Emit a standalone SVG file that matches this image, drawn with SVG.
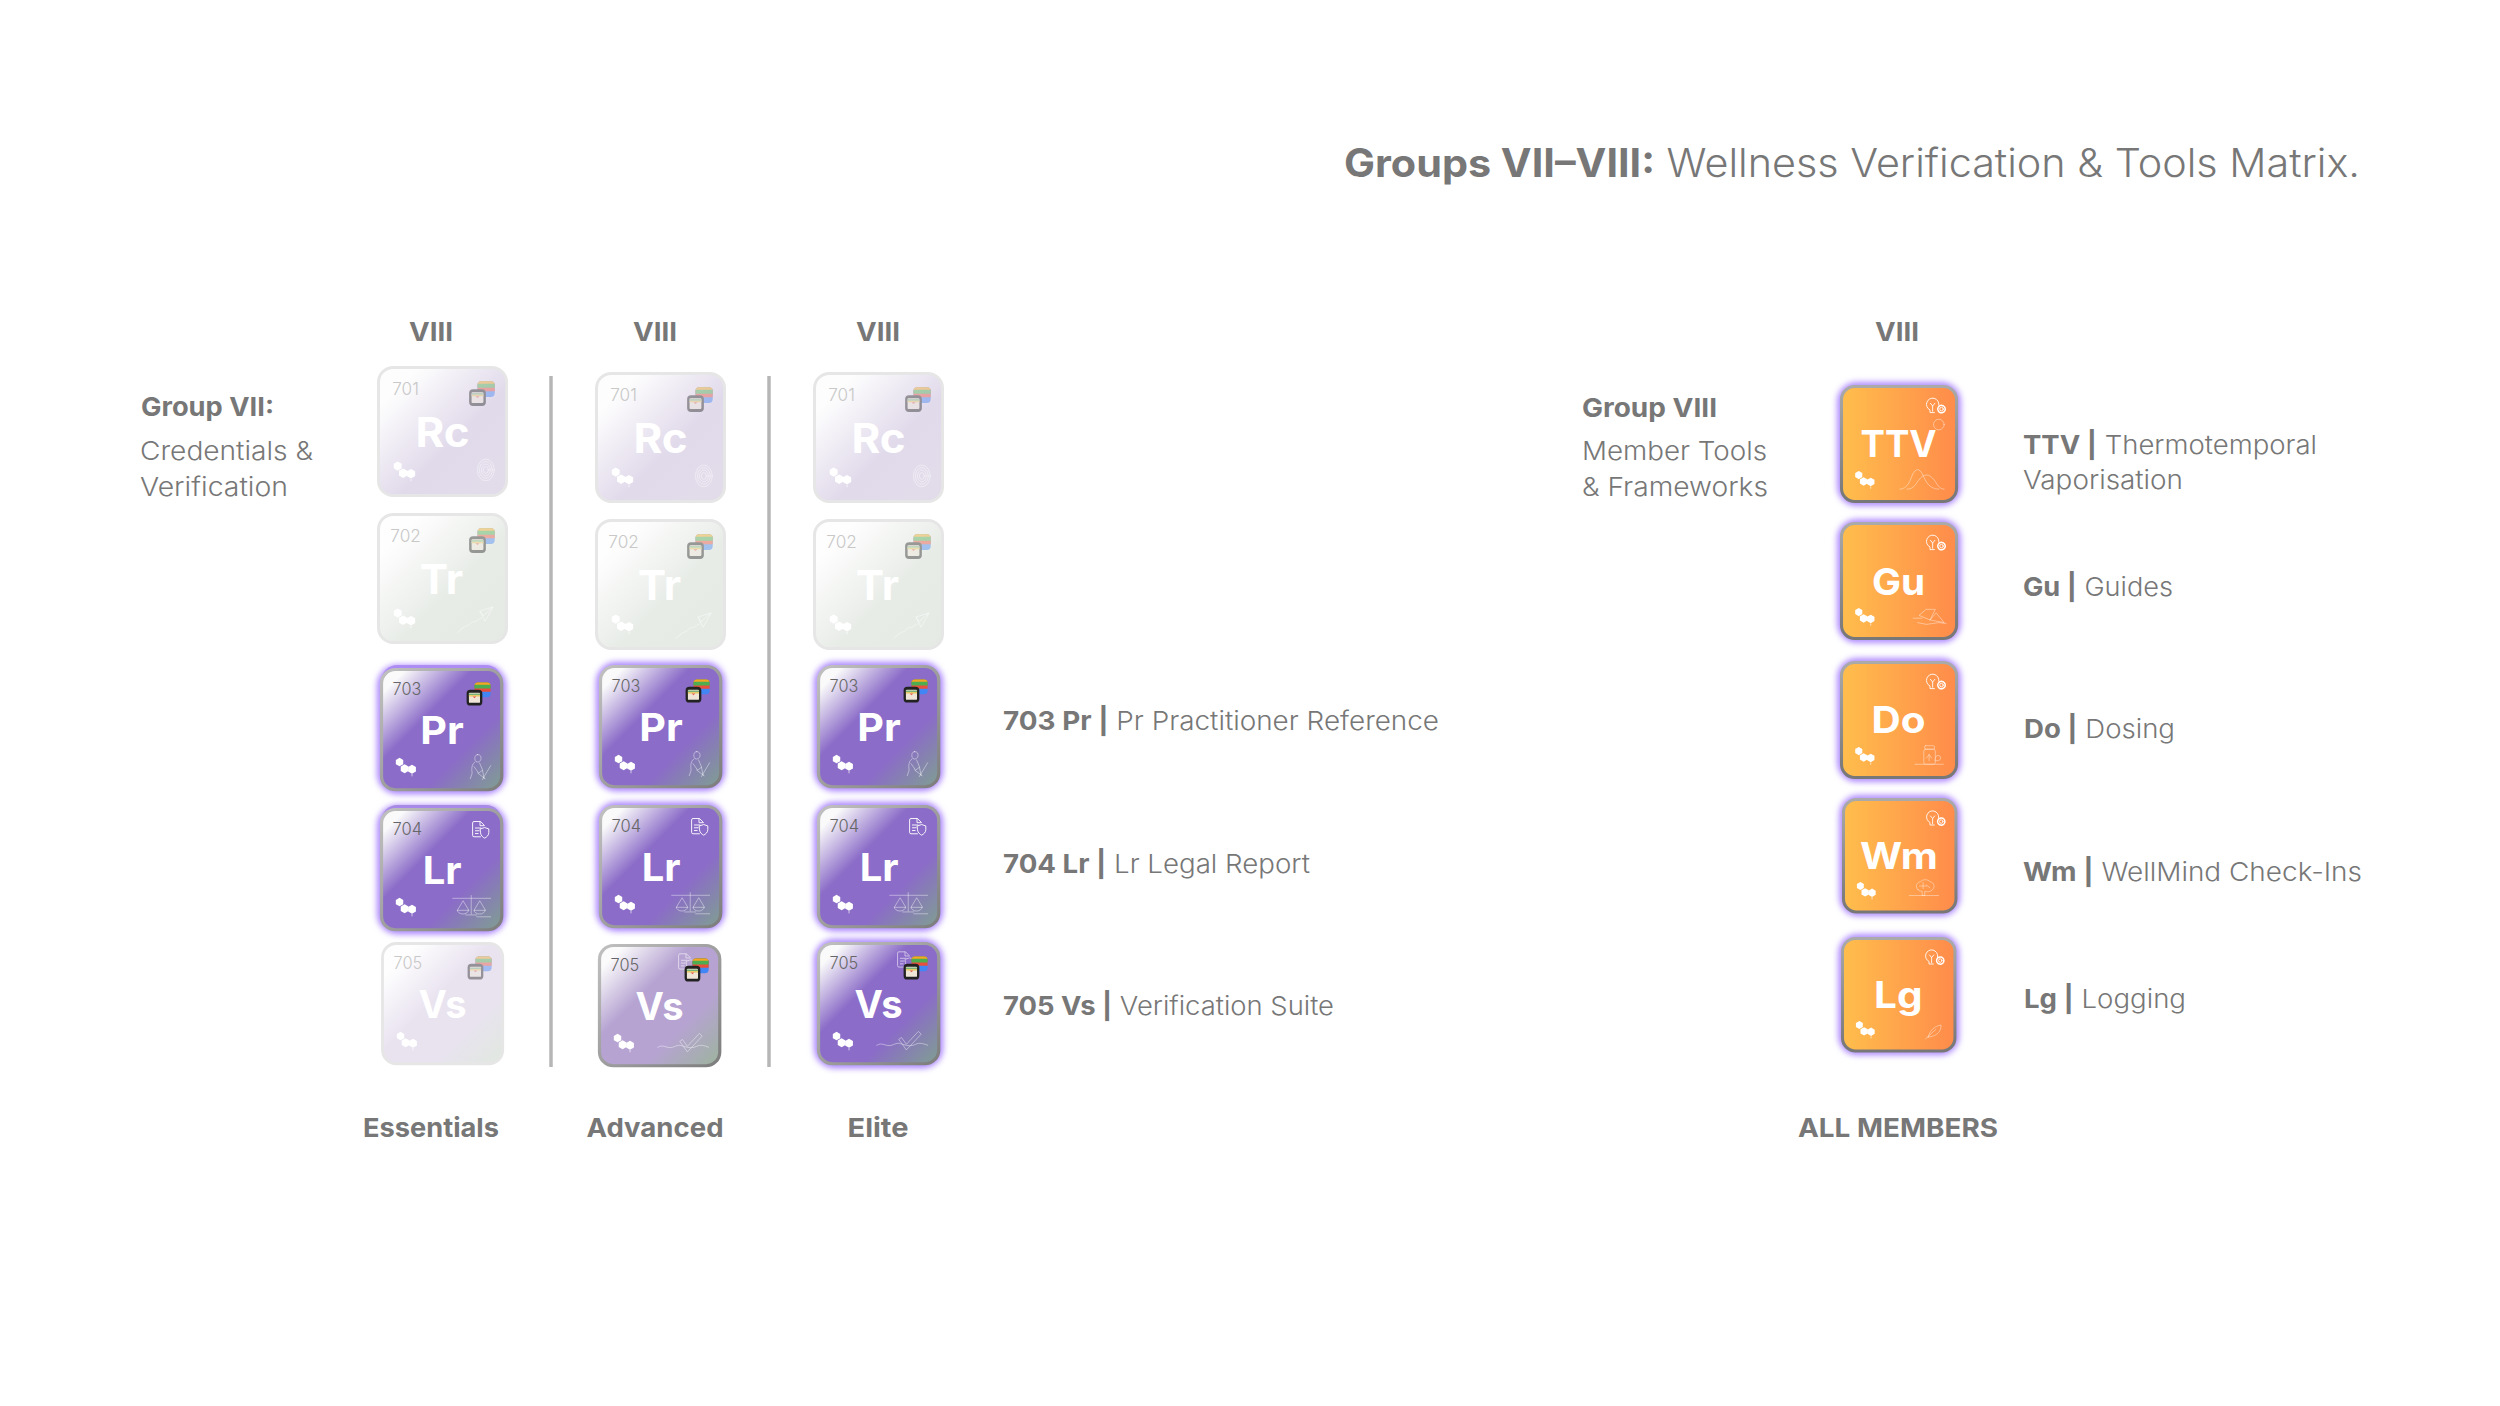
<svg xmlns="http://www.w3.org/2000/svg" width="2500" height="1406" viewBox="0 0 2500 1406">
<style>
text{font-family:"Inter","Open Sans","Liberation Sans",sans-serif;fill:#777}
.l{font-size:26px;font-weight:300}
.r{font-weight:300}
.b,.l.b,.l .b{font-weight:700}
.h{font-size:26px;font-weight:700;text-anchor:middle}
.sym{font-size:42px;font-weight:700;fill:#fff;text-anchor:middle}
.num{font-size:18px;font-weight:300;fill:#666}
.fade .num{fill:#c8c8c8}
.art{fill:none;stroke:#fff;stroke-width:.7;stroke-linecap:round;stroke-linejoin:round;opacity:.65}
.ic{fill:none;stroke:#fff;stroke-width:1;stroke-linecap:round;stroke-linejoin:round}
</style>
<defs>
<linearGradient id="gP" x1="0" y1="0" x2="1" y2="1"><stop offset=".1" stop-color="#fafafa"/><stop offset=".38" stop-color="#8b6cc8"/><stop offset=".68" stop-color="#8b6cc8"/><stop offset="1" stop-color="#7f9f90"/></linearGradient>
<linearGradient id="gPm" x1="0" y1="0" x2="1" y2="1"><stop offset=".1" stop-color="#fbfbfb"/><stop offset=".38" stop-color="#b6a3d2"/><stop offset=".68" stop-color="#b6a3d2"/><stop offset="1" stop-color="#9cb49c"/></linearGradient>
<linearGradient id="gRc" x1="0" y1="0" x2="1" y2="1"><stop offset=".16" stop-color="#fdfdfd"/><stop offset=".58" stop-color="#e1daeb"/><stop offset="1" stop-color="#e2dcea"/></linearGradient>
<linearGradient id="gTr" x1="0" y1="0" x2="1" y2="1"><stop offset=".16" stop-color="#fefefe"/><stop offset=".58" stop-color="#e8ece7"/><stop offset="1" stop-color="#e5eae4"/></linearGradient>
<linearGradient id="gVs" x1="0" y1="0" x2="1" y2="1"><stop offset=".14" stop-color="#fefefe"/><stop offset=".45" stop-color="#e9e3f0"/><stop offset=".7" stop-color="#e9e3f0"/><stop offset="1" stop-color="#e0e8df"/></linearGradient>
<linearGradient id="gO" x1="0" y1="0" x2="1" y2="0"><stop offset="0" stop-color="#ffbe4c"/><stop offset="1" stop-color="#ff8b4b"/></linearGradient>
<linearGradient id="bD" x1="0" y1="0" x2="1" y2="1"><stop offset="0" stop-color="#c0c0c0"/><stop offset="1" stop-color="#7d7d7d"/></linearGradient>
<linearGradient id="bV" x1="0" y1="0" x2="0" y2="1"><stop offset="0" stop-color="#aaa"/><stop offset="1" stop-color="#777"/></linearGradient>
<filter id="glow" x="-20%" y="-20%" width="140%" height="140%"><feGaussianBlur stdDeviation="3.500"/></filter>
<rect id="glowR" x="0" y="0" width="130" height="130" rx="17" fill="#fff" stroke="#a57dff" stroke-width="9" filter="url(#glow)"/>
<g id="hex" fill="#fff">
<path d="M19.500 95.500l4 2.300v4.600l-4 2.300l-4-2.300v-4.600z"/>
<path d="M25 102.500l4.200 2.400v4.800l-4.200 2.400l-4.200-2.400v-4.800z"/>
<path d="M33 103l4.200 2.400v4.800l-4.200 2.400l-4.200-2.400v-4.800z"/>
<path d="M33 113v2.500" stroke="#fff" stroke-width=".7"/>
</g>
<g id="stack">
<rect x="100.500" y="14" width="17.500" height="16" rx="4" fill="#4285f4"/>
<path d="M100.500 24v-6a4 4 0 0 1 4-4h9.500a4 4 0 0 1 4 4v6z" fill="#ea4f3d"/>
<path d="M100.500 20.500v-2.500a4 4 0 0 1 4-4h9.500a4 4 0 0 1 4 4v2.500z" fill="#4cae50"/>
<path d="M100.500 16.500a3.600 3.600 0 0 1 3-2.500h11.500a3.600 3.600 0 0 1 3 2.500z" fill="#f5a623"/>
</g>
<g id="wallet">
<rect x="92" y="22" width="17" height="17" rx="4" fill="#222"/>
<rect x="94.500" y="25" width="12" height="11" rx="1" fill="#efe6d8"/>
<rect x="94.500" y="26" width="12" height="1.700" fill="#78b27a"/>
<rect x="94.500" y="27.700" width="12" height="1.500" fill="#e9c75a"/>
<path d="M98.500 29.200h4l-2 1.800z" fill="#e8604e"/>
</g>
<g id="doc" class="ic">
<path d="M111 17l-4-4h-7a1.500 1.500 0 0 0-1.500 1.500v13.500a1.500 1.500 0 0 0 1.500 1.500h7"/>
<path d="M106.500 13v4.500h4.500M101.500 20h6M101.500 23h4M101.500 26h3"/>
<path d="M107 21l4.500-1.500l4.500 1.500v4c0 3-2.500 5-4.500 6c-2-1-4.500-3-4.500-6z"/>
</g>
<g id="bulb" class="ic">
<path d="M110 21a7 7 0 1 0-10 5.500v3h5"/>
<path d="M103 28v-6l-2.500-3M103 22l2.500-3"/>
<circle cx="113" cy="25.500" r="2"/><circle cx="113" cy="25.500" r="4.200" stroke-dasharray="1.600 .9" stroke-width="1.700"/>
</g>
<g id="print" class="art"><ellipse cx="109" cy="104" rx="8.500" ry="11"/><ellipse cx="109" cy="104" rx="6.500" ry="8.500"/><ellipse cx="109" cy="104" rx="4.500" ry="6"/><ellipse cx="109" cy="104" rx="2.500" ry="3.500"/></g>
<g id="plane" class="art"><path d="M116 94l-13 4l5 10z M103 98l3 5l10-9"/><path d="M105 105c-4 1-5 4-9 4c-3 0-2 3-6 4c-4 1-6 4-10 7" stroke-dasharray="2 1"/></g>
<g id="person" class="art"><path d="M104 92c3 0 4 2 3.500 5c-.5 2-2 3-4 3c-2 0-3-3-2.500-5c.3-2 1.500-3 3-3zM101 100c-3 2-4 6-3 12l-2 6M106 101l3 7l2 10M100 105l5 7l4-3M118 104l-9 15M104 112l8 6"/></g>
<g id="scale" class="art"><path d="M77 96h41M97 93v20M91 114h12M103 116h15M88 99l-6 10h12zM106 99l-6 10h12zM82 109a6 4 0 0 0 12 0M100 109a6 4 0 0 0 12 0"/></g>
<g id="check" class="art"><path d="M63 110c6-4 10 2 16 0s6-3 12-1s10 2 14 0s8-1 13 1"/><path d="M90 102l5 7l13-14l3 3l-16 17l-8-11z"/></g>
<g id="curve" class="art"><path d="M66 116c9 0 12-11 14-16c2-4 4-6 6-6s4 2 6 6c3 7 7 16 18 16"/><path d="M74 116c8 0 10-6 13-10c3-4 6-6 9-6s6 2 9 6c3 4 5 10 11 10"/></g>
<g id="book" class="art"><path d="M81 107h10M88 104l12 5l6-12l-10 0zM100 109l7-8l9 11l-16-3M86 112l10 2l14-2l8 1"/></g>
<g id="jar" class="art"><rect x="93" y="98" width="13" height="17" rx="2"/><rect x="94" y="94" width="11" height="4" rx="1"/><path d="M83 115h32M106 108a3 3 0 0 1 6 0c0 3-3 3-6 3zM99 104v7M96 108l3-4l3 4"/></g>
<g id="brain" class="art"><path d="M86 104c-4-4-1-8 3-9c3-3 8-3 11 0c5 1 6 6 3 9c-2 3-7 3-9 2v5h-3v-5c-2 0-4 0-5-2zM76 111h34M92 96v7M88 100h8M96 99l4 3"/></g>
<g id="leaf" class="art"><path d="M99 114c2-8 8-13 15-14c0 8-5 13-15 14zM96 116l12-11"/></g>
</defs>
<g id="title"><text x="1344" y="177" font-size="39" textLength="1016" lengthAdjust="spacingAndGlyphs"><tspan class="b">Groups VII–VIII:</tspan><tspan class="r"> Wellness Verification &amp; Tools Matrix.</tspan></text></g>
<g id="column-headers">
<text class="h" x="431" y="341" textLength="44" lengthAdjust="spacingAndGlyphs">VIII</text>
<text class="h" x="655" y="341" textLength="44" lengthAdjust="spacingAndGlyphs">VIII</text>
<text class="h" x="878" y="341" textLength="44" lengthAdjust="spacingAndGlyphs">VIII</text>
<text class="h" x="1897" y="341" textLength="44" lengthAdjust="spacingAndGlyphs">VIII</text>
<text class="h" x="431" y="1137" textLength="136" lengthAdjust="spacingAndGlyphs">Essentials</text>
<text class="h" x="655" y="1137" textLength="137" lengthAdjust="spacingAndGlyphs">Advanced</text>
<text class="h" x="878" y="1137" textLength="61" lengthAdjust="spacingAndGlyphs">Elite</text>
<text class="h" x="1898" y="1137" textLength="200" lengthAdjust="spacingAndGlyphs">ALL MEMBERS</text>
</g>
<g id="group-labels">
<text class="l b" x="141" y="416" textLength="133" lengthAdjust="spacingAndGlyphs">Group VII:</text>
<text class="l" x="140" y="460" textLength="173" lengthAdjust="spacingAndGlyphs">Credentials &amp;</text>
<text class="l" x="140" y="496" textLength="148" lengthAdjust="spacingAndGlyphs">Verification</text>
<text class="l b" x="1582" y="417" textLength="135" lengthAdjust="spacingAndGlyphs">Group VIII</text>
<text class="l" x="1582" y="460" textLength="185" lengthAdjust="spacingAndGlyphs">Member Tools</text>
<text class="l" x="1582" y="496" textLength="186" lengthAdjust="spacingAndGlyphs">&amp; Frameworks</text>
</g>
<g id="connectors" stroke="#b6b6b6" stroke-width="3.500">
<path d="M551 376V1067"/>
<path d="M769 376V1067"/>
</g>
<g id="legend">
<text class="l" x="1003" y="730" textLength="436" lengthAdjust="spacingAndGlyphs"><tspan class="b">703 Pr |</tspan> Pr Practitioner Reference</text>
<text class="l" x="1003" y="873" textLength="307" lengthAdjust="spacingAndGlyphs"><tspan class="b">704 Lr |</tspan> Lr Legal Report</text>
<text class="l" x="1003" y="1015" textLength="331" lengthAdjust="spacingAndGlyphs"><tspan class="b">705 Vs |</tspan> Verification Suite</text>
<text class="l" x="2023" y="454" textLength="294" lengthAdjust="spacingAndGlyphs"><tspan class="b">TTV |</tspan> Thermotemporal</text>
<text class="l" x="2023" y="489" textLength="160" lengthAdjust="spacingAndGlyphs">Vaporisation</text>
<text class="l" x="2023" y="596" textLength="150" lengthAdjust="spacingAndGlyphs"><tspan class="b">Gu |</tspan> Guides</text>
<text class="l" x="2024" y="738" textLength="151" lengthAdjust="spacingAndGlyphs"><tspan class="b">Do |</tspan> Dosing</text>
<text class="l" x="2023" y="881" textLength="339" lengthAdjust="spacingAndGlyphs"><tspan class="b">Wm |</tspan> WellMind Check-Ins</text>
<text class="l" x="2024" y="1008" textLength="162" lengthAdjust="spacingAndGlyphs"><tspan class="b">Lg |</tspan> Logging</text>
</g>

<g id="c1-rc" class="fade" transform="translate(378.500 367.500) scale(.985)"><rect width="130" height="130" rx="15" fill="url(#gRc)" stroke="#e6e6e6" stroke-width="3"/><g opacity=".42"><use href="#stack"/><use href="#wallet"/></g><use href="#hex"/><use href="#print"/><text class="num" x="14" y="28" textLength="27" lengthAdjust="spacingAndGlyphs">701</text><text class="sym" x="65" y="81" textLength="55" lengthAdjust="spacingAndGlyphs">Rc</text></g>
<g id="c1-tr" class="fade" transform="translate(378.500 514.500) scale(.985)"><rect width="130" height="130" rx="15" fill="url(#gTr)" stroke="#e6e6e6" stroke-width="3"/><g opacity=".42"><use href="#stack"/><use href="#wallet"/></g><use href="#hex"/><use href="#plane"/><text class="num" x="12" y="28" textLength="31" lengthAdjust="spacingAndGlyphs">702</text><text class="sym" x="64" y="81" textLength="44" lengthAdjust="spacingAndGlyphs">Tr</text></g>
<g id="c1-pr" transform="translate(381.500 669.500) scale(.925)"><rect y="-5" width="130" height="60" rx="17" fill="#b9a0e4"/><use href="#glowR"/><rect width="130" height="130" rx="15" fill="url(#gP)" stroke="url(#bD)" stroke-width="3.500"/><use href="#stack"/><use href="#wallet"/><use href="#hex"/><use href="#person"/><text class="num" x="12" y="28" textLength="31" lengthAdjust="spacingAndGlyphs">703</text><text class="sym" x="65.500" y="81" textLength="47" lengthAdjust="spacingAndGlyphs">Pr</text></g>
<g id="c1-lr" transform="translate(381.500 809.500) scale(.925)"><rect y="-5" width="130" height="60" rx="17" fill="#a99bbf"/><use href="#glowR"/><rect width="130" height="130" rx="15" fill="url(#gP)" stroke="url(#bD)" stroke-width="3.500"/><use href="#doc"/><use href="#hex"/><use href="#scale"/><text class="num" x="12" y="28" textLength="32" lengthAdjust="spacingAndGlyphs">704</text><text class="sym" x="65.500" y="81" textLength="42" lengthAdjust="spacingAndGlyphs">Lr</text></g>
<g id="c1-vs" class="fade" transform="translate(382.500 943.500) scale(.925)"><rect width="130" height="130" rx="15" fill="url(#gVs)" stroke="#e6e6e6" stroke-width="3"/><g opacity=".42"><use href="#stack"/><use href="#wallet"/></g><use href="#hex"/><text class="num" x="12" y="28" textLength="31" lengthAdjust="spacingAndGlyphs">705</text><text class="sym" x="65" y="81" textLength="52" lengthAdjust="spacingAndGlyphs">Vs</text></g>

<g id="c2-rc" class="fade" transform="translate(596.500 373.500) scale(.985)"><rect width="130" height="130" rx="15" fill="url(#gRc)" stroke="#e6e6e6" stroke-width="3"/><g opacity=".42"><use href="#stack"/><use href="#wallet"/></g><use href="#hex"/><use href="#print"/><text class="num" x="14" y="28" textLength="27" lengthAdjust="spacingAndGlyphs">701</text><text class="sym" x="65" y="81" textLength="55" lengthAdjust="spacingAndGlyphs">Rc</text></g>
<g id="c2-tr" class="fade" transform="translate(596.500 520.500) scale(.985)"><rect width="130" height="130" rx="15" fill="url(#gTr)" stroke="#e6e6e6" stroke-width="3"/><g opacity=".42"><use href="#stack"/><use href="#wallet"/></g><use href="#hex"/><use href="#plane"/><text class="num" x="12" y="28" textLength="31" lengthAdjust="spacingAndGlyphs">702</text><text class="sym" x="64" y="81" textLength="44" lengthAdjust="spacingAndGlyphs">Tr</text></g>
<g id="c2-pr" transform="translate(600.500 666.500) scale(.925)"><use href="#glowR"/><rect width="130" height="130" rx="15" fill="url(#gP)" stroke="url(#bD)" stroke-width="3.500"/><use href="#stack"/><use href="#wallet"/><use href="#hex"/><use href="#person"/><text class="num" x="12" y="28" textLength="31" lengthAdjust="spacingAndGlyphs">703</text><text class="sym" x="65.500" y="81" textLength="47" lengthAdjust="spacingAndGlyphs">Pr</text></g>
<g id="c2-lr" transform="translate(600.500 806.500) scale(.925)"><use href="#glowR"/><rect width="130" height="130" rx="15" fill="url(#gP)" stroke="url(#bD)" stroke-width="3.500"/><use href="#doc"/><use href="#hex"/><use href="#scale"/><text class="num" x="12" y="28" textLength="32" lengthAdjust="spacingAndGlyphs">704</text><text class="sym" x="65.500" y="81" textLength="42" lengthAdjust="spacingAndGlyphs">Lr</text></g>
<g id="c2-vs" transform="translate(599.500 945.500) scale(.925)"><rect width="130" height="130" rx="15" fill="url(#gPm)" stroke="url(#bD)" stroke-width="3.500"/><use href="#doc" x="-13" y="-4" opacity=".6"/><use href="#stack"/><use href="#wallet"/><use href="#hex"/><use href="#check"/><text class="num" x="12" y="28" textLength="31" lengthAdjust="spacingAndGlyphs">705</text><text class="sym" x="65" y="81" textLength="52" lengthAdjust="spacingAndGlyphs">Vs</text></g>

<g id="c3-rc" class="fade" transform="translate(814.500 373.500) scale(.985)"><rect width="130" height="130" rx="15" fill="url(#gRc)" stroke="#e6e6e6" stroke-width="3"/><g opacity=".42"><use href="#stack"/><use href="#wallet"/></g><use href="#hex"/><use href="#print"/><text class="num" x="14" y="28" textLength="27" lengthAdjust="spacingAndGlyphs">701</text><text class="sym" x="65" y="81" textLength="55" lengthAdjust="spacingAndGlyphs">Rc</text></g>
<g id="c3-tr" class="fade" transform="translate(814.500 520.500) scale(.985)"><rect width="130" height="130" rx="15" fill="url(#gTr)" stroke="#e6e6e6" stroke-width="3"/><g opacity=".42"><use href="#stack"/><use href="#wallet"/></g><use href="#hex"/><use href="#plane"/><text class="num" x="12" y="28" textLength="31" lengthAdjust="spacingAndGlyphs">702</text><text class="sym" x="64" y="81" textLength="44" lengthAdjust="spacingAndGlyphs">Tr</text></g>
<g id="c3-pr" transform="translate(818.500 666.500) scale(.925)"><use href="#glowR"/><rect width="130" height="130" rx="15" fill="url(#gP)" stroke="url(#bD)" stroke-width="3.500"/><use href="#stack"/><use href="#wallet"/><use href="#hex"/><use href="#person"/><text class="num" x="12" y="28" textLength="31" lengthAdjust="spacingAndGlyphs">703</text><text class="sym" x="65.500" y="81" textLength="47" lengthAdjust="spacingAndGlyphs">Pr</text></g>
<g id="c3-lr" transform="translate(818.500 806.500) scale(.925)"><use href="#glowR"/><rect width="130" height="130" rx="15" fill="url(#gP)" stroke="url(#bD)" stroke-width="3.500"/><use href="#doc"/><use href="#hex"/><use href="#scale"/><text class="num" x="12" y="28" textLength="32" lengthAdjust="spacingAndGlyphs">704</text><text class="sym" x="65.500" y="81" textLength="42" lengthAdjust="spacingAndGlyphs">Lr</text></g>
<g id="c3-vs" transform="translate(818.500 943.500) scale(.925)"><use href="#glowR"/><rect width="130" height="130" rx="15" fill="url(#gP)" stroke="url(#bD)" stroke-width="3.500"/><use href="#doc" x="-13" y="-4" opacity=".6"/><use href="#stack"/><use href="#wallet"/><use href="#hex"/><use href="#check"/><text class="num" x="12" y="28" textLength="31" lengthAdjust="spacingAndGlyphs">705</text><text class="sym" x="65" y="81" textLength="52" lengthAdjust="spacingAndGlyphs">Vs</text></g>

<g id="ttv" transform="translate(1841.500 386.500) scale(.885)"><use href="#glowR"/><rect width="130" height="130" rx="15" fill="url(#gO)" stroke="url(#bV)" stroke-width="3.500"/><use href="#bulb"/><circle class="art" cx="110" cy="43" r="6"/><use href="#hex"/><use href="#curve"/><text class="sym" x="64.500" y="80" textLength="86" lengthAdjust="spacingAndGlyphs">TTV</text></g>
<g id="gu" transform="translate(1841.500 523.500) scale(.885)"><use href="#glowR"/><rect width="130" height="130" rx="15" fill="url(#gO)" stroke="url(#bV)" stroke-width="3.500"/><use href="#bulb"/><use href="#hex"/><use href="#book"/><text class="sym" x="64.500" y="81" textLength="60" lengthAdjust="spacingAndGlyphs">Gu</text></g>
<g id="do" transform="translate(1841.500 662.500) scale(.885)"><use href="#glowR"/><rect width="130" height="130" rx="15" fill="url(#gO)" stroke="url(#bV)" stroke-width="3.500"/><use href="#bulb"/><use href="#hex"/><use href="#jar"/><text class="sym" x="64.500" y="80" textLength="61" lengthAdjust="spacingAndGlyphs">Do</text></g>
<g id="wm" transform="translate(1843.500 799.500) scale(.865)"><use href="#glowR"/><rect width="130" height="130" rx="15" fill="url(#gO)" stroke="url(#bV)" stroke-width="3.500"/><use href="#bulb"/><use href="#hex"/><use href="#brain"/><text class="sym" x="64" y="80" textLength="90" lengthAdjust="spacingAndGlyphs">Wm</text></g>
<g id="lg" transform="translate(1842.500 938.500) scale(.865)"><use href="#glowR"/><rect width="130" height="130" rx="15" fill="url(#gO)" stroke="url(#bV)" stroke-width="3.500"/><use href="#bulb"/><use href="#hex"/><use href="#leaf"/><text class="sym" x="64.500" y="80" textLength="56" lengthAdjust="spacingAndGlyphs">Lg</text></g>
</svg>
